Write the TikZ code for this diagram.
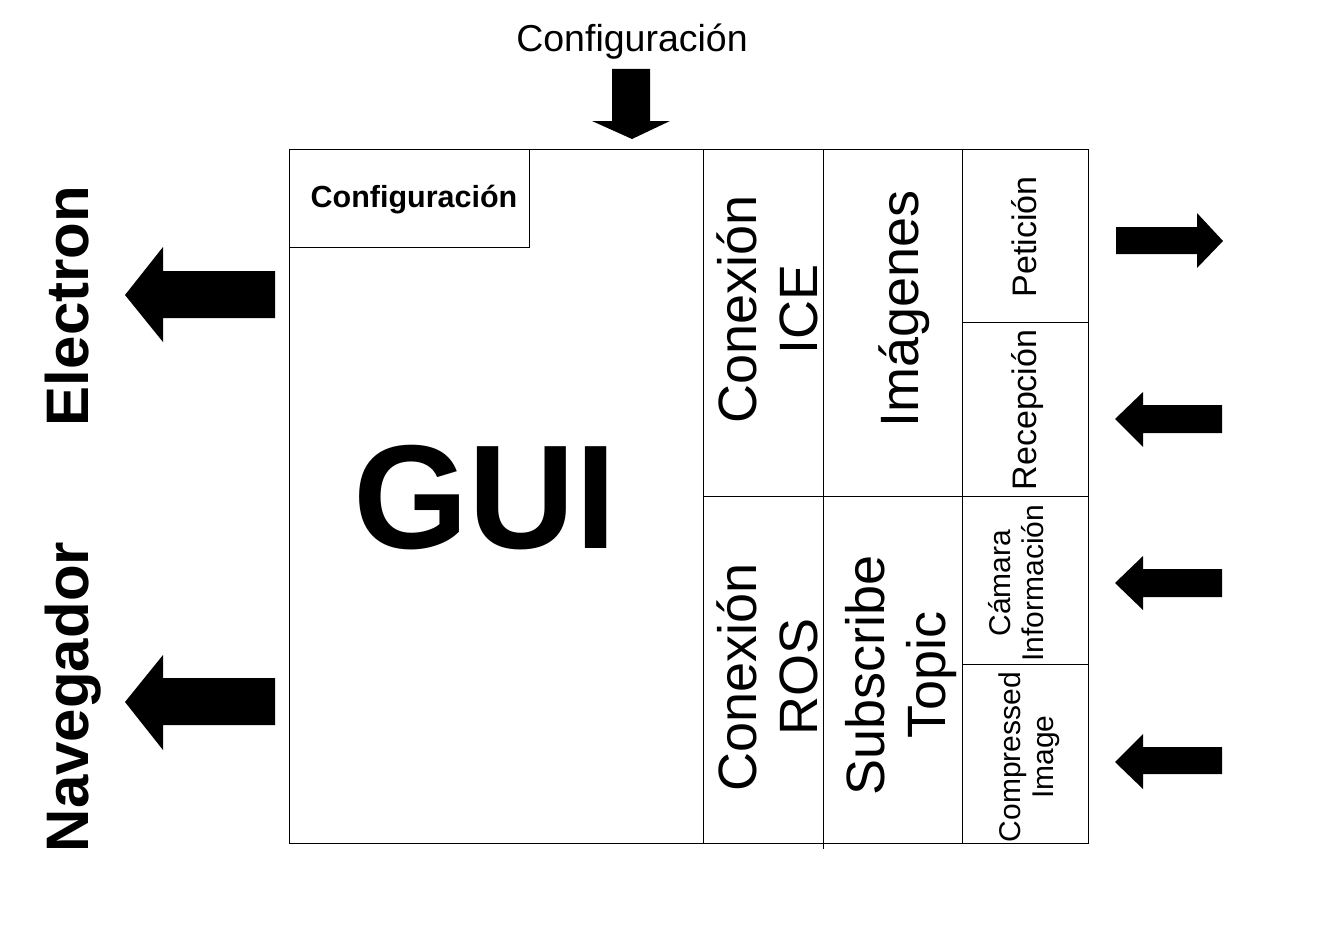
\documentclass[tikz,border=0pt]{standalone}
\usepackage{fontspec}
\setmainfont{Liberation Sans}
\begin{document}
\begin{tikzpicture}[x=1pt,y=-1pt,
  cell/.style={draw,line width=1pt,anchor=north west,inner sep=0pt,outer sep=0pt},
  txt/.style={inner sep=0pt,outer sep=0pt,align=center},
  vtxt/.style={txt,rotate=90},
  blk/.style={fill=black}]
\useasboundingbox (0,0) rectangle (1333,942);
% cells
\node[cell,minimum width=414pt,minimum height=694pt] (gui) at (289,149) {};
\node[cell,minimum width=240pt,minimum height=98pt] (cfgbox) at (289,149) {};
\node[cell,minimum width=120pt,minimum height=347pt] (ice) at (703,149) {};
\node[cell,minimum width=139pt,minimum height=347pt] (img) at (823,149) {};
\node[cell,minimum width=126pt,minimum height=173pt] (pet) at (962,149) {};
\node[cell,minimum width=126pt,minimum height=174pt] (rec) at (962,322) {};
\node[cell,minimum width=120pt,minimum height=347pt] (ros) at (703,496) {};
\node[cell,minimum width=139pt,minimum height=347pt] (sub) at (823,496) {};
\node[cell,minimum width=126pt,minimum height=168pt] (cam) at (962,496) {};
\node[cell,minimum width=126pt,minimum height=179pt] (comp) at (962,664) {};
\coordinate (subtail) at (823,849);
\draw[line width=1pt] (sub.south west) -- (subtail);
% texts
\node[txt,anchor=base,font=\fontsize{37.5}{40}\selectfont] (cfgtop) at (632,52) {Configuración};
\node[txt,anchor=base,font=\fontsize{30.5}{32}\selectfont\bfseries] (cfgin) at (414,207) {Configuración};
\node[txt,anchor=base,font=\fontsize{148}{150}\selectfont\bfseries] (guit) at (485,548) {GUI};
\node[vtxt,anchor=base,font=\fontsize{60}{64}\selectfont\bfseries] (electron) at (88,306) {Electron};
\node[vtxt,anchor=base,font=\fontsize{60}{64}\selectfont\bfseries] (nav) at (88,697) {Navegador};
\node[vtxt,font=\fontsize{54}{61}\selectfont] (icet) at (767,309) {Conexión\\ICE};
\node[vtxt,font=\fontsize{54}{61}\selectfont] (rost) at (767,677) {Conexión\\ROS};
\node[vtxt,anchor=base,font=\fontsize{54}{61}\selectfont] (imgt) at (918,309) {Imágenes};
\node[vtxt,font=\fontsize{54}{61}\selectfont] (subt) at (901,675) {Subscribe\\Topic};
\node[vtxt,anchor=base,font=\fontsize{34}{38}\selectfont] (pett) at (1036,237) {Petición};
\node[vtxt,anchor=base,font=\fontsize{34}{38}\selectfont] (rect) at (1036,410) {Recepción};
\node[vtxt,font=\fontsize{30}{33}\selectfont] (camt) at (1016,583) {Cámara\\Información};
\node[vtxt,font=\fontsize{30}{33}\selectfont] (compt) at (1029,757) {Compressed\\Image};
% arrows
\fill[blk] (612,69) -- (650,69) -- (650,121) -- (670,121) -- (632,139) -- (592,121) -- (612,121) -- cycle;
\fill[blk] (275,271) -- (163,271) -- (163,247) -- (125,295) -- (163,342) -- (163,318) -- (275,318) -- cycle;
\fill[blk] (275,678) -- (163,678) -- (163,655) -- (125,702) -- (163,750) -- (163,725) -- (275,725) -- cycle;
\fill[blk] (1116,227) -- (1197,227) -- (1197,213) -- (1223,241) -- (1197,268) -- (1197,254) -- (1116,254) -- cycle;
\fill[blk] (1222,405) -- (1143,405) -- (1143,392) -- (1115,419) -- (1143,447) -- (1143,433) -- (1222,433) -- cycle;
\fill[blk] (1222,569) -- (1143,569) -- (1143,556) -- (1115,583) -- (1143,610) -- (1143,597) -- (1222,597) -- cycle;
\fill[blk] (1222,747) -- (1143,747) -- (1143,734) -- (1115,762) -- (1143,789) -- (1143,774) -- (1222,774) -- cycle;
\end{tikzpicture}
\end{document}
